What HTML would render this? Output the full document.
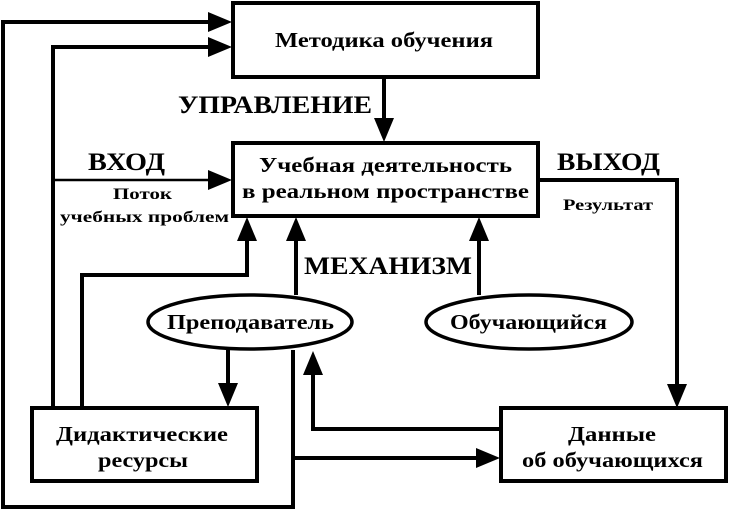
<!DOCTYPE html>
<html><head><meta charset="utf-8"><style>
html,body{margin:0;padding:0;background:#fff}
svg{display:block}
text{font-family:"Liberation Serif","DejaVu Serif",serif;font-weight:bold;fill:#000}
</style></head><body>
<svg width="729" height="509" viewBox="0 0 729 509" xmlns="http://www.w3.org/2000/svg">
<g fill="none" stroke="#000" stroke-width="4">
<rect x="233" y="3" width="305" height="74"/>
<rect x="233" y="143" width="305" height="73"/>
<rect x="32" y="408" width="225" height="73"/>
<rect x="501" y="408" width="225" height="73"/>
<ellipse cx="250" cy="322" rx="102" ry="27" stroke-width="3.5"/>
<ellipse cx="529" cy="322" rx="103" ry="27" stroke-width="3.5"/>
<polyline points="215,22 3,22 3,507 293,507 293,350"/>
<line x1="293" y1="458" x2="482" y2="458"/>
<polyline points="215,47 53,47 53,408"/>
<polyline points="82,408 82,275 247,275 247,236"/>
<line x1="296" y1="295" x2="296" y2="236"/>
<line x1="479" y1="295" x2="479" y2="236"/>
<line x1="384" y1="77" x2="384" y2="124"/>
<polyline points="538,180 677,180 677,390"/>
<line x1="228" y1="350" x2="228" y2="390"/>
<polyline points="501,429 313,429 313,368"/>
</g>
<line x1="53" y1="180" x2="215" y2="180" stroke="#000" stroke-width="2.5"/>
<g fill="#000">
<polygon points="232,22 208,12 208,32"/>
<polygon points="232,47 208,37 208,57"/>
<polygon points="232,180 208,170 208,190"/>
<polygon points="500,458 476,448 476,468"/>
<polygon points="384,142 374,118 394,118"/>
<polygon points="677,408 667,384 687,384"/>
<polygon points="228,407 218,383 238,383"/>
<polygon points="247,217 237,241 257,241"/>
<polygon points="296,217 286,241 306,241"/>
<polygon points="479,217 469,241 489,241"/>
<polygon points="313,351 303,375 323,375"/>
</g>
<g font-size="21" lengthAdjust="spacingAndGlyphs">
<text x="275" y="47" textLength="218" lengthAdjust="spacingAndGlyphs">Методика обучения</text>
<text x="259" y="172" textLength="253" lengthAdjust="spacingAndGlyphs">Учебная деятельность</text>
<text x="242" y="198" textLength="287" lengthAdjust="spacingAndGlyphs">в реальном пространстве</text>
<text x="56" y="441" textLength="172" lengthAdjust="spacingAndGlyphs">Дидактические</text>
<text x="98" y="467" textLength="90" lengthAdjust="spacingAndGlyphs">ресурсы</text>
<text x="568" y="441" textLength="88" lengthAdjust="spacingAndGlyphs">Данные</text>
<text x="522" y="467" textLength="181" lengthAdjust="spacingAndGlyphs">об обучающихся</text>
<text x="167" y="329" textLength="167" lengthAdjust="spacingAndGlyphs">Преподаватель</text>
<text x="450" y="329" textLength="157" lengthAdjust="spacingAndGlyphs">Обучающийся</text>
</g>
<g font-size="25">
<text x="178" y="113" textLength="194" lengthAdjust="spacingAndGlyphs">УПРАВЛЕНИЕ</text>
<text x="88" y="170" textLength="77" lengthAdjust="spacingAndGlyphs">ВХОД</text>
<text x="557" y="170" textLength="103" lengthAdjust="spacingAndGlyphs">ВЫХОД</text>
<text x="304" y="274" textLength="168" lengthAdjust="spacingAndGlyphs">МЕХАНИЗМ</text>
</g>
<g font-size="16">
<text x="113" y="199" textLength="59" lengthAdjust="spacingAndGlyphs">Поток</text>
<text x="60" y="222" textLength="169" lengthAdjust="spacingAndGlyphs">учебных проблем</text>
<text x="563" y="210" textLength="90" lengthAdjust="spacingAndGlyphs">Результат</text>
</g>
</svg>
</body></html>
